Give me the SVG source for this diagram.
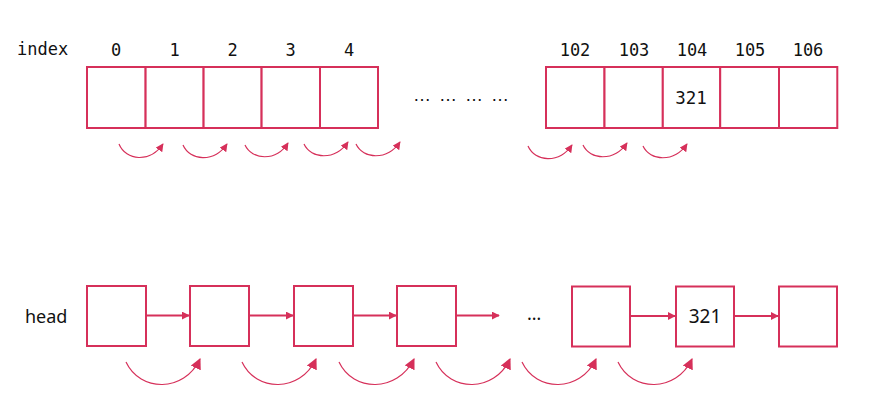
<svg xmlns="http://www.w3.org/2000/svg" width="890" height="419" viewBox="0 0 890 419">
<defs>
<style>
.box{fill:#fff;stroke:#d6305a;stroke-width:2}
.mono{font-family:"DejaVu Sans Mono","Liberation Mono",monospace;font-size:17px;fill:#111}
.sans{font-family:"Noto Sans","DejaVu Sans",sans-serif;font-size:18px;fill:#111}
.link{stroke:#d6305a;stroke-width:2;fill:none}
.arc{stroke:#d6305a;stroke-width:1.2;fill:none}
</style>
<marker id="ah" viewBox="0 0 10 10" refX="9" refY="5" markerWidth="8" markerHeight="8" markerUnits="userSpaceOnUse" orient="auto">
<path d="M0,0 L10,5 L0,10 z" fill="#d6305a"/>
</marker>
<marker id="ab" viewBox="0 0 10 10" refX="9" refY="5" markerWidth="11" markerHeight="11" markerUnits="userSpaceOnUse" orient="auto">
<path d="M0,0 L10,5 L0,10 z" fill="#d6305a"/>
</marker>
</defs>
<rect width="890" height="419" fill="#fff"/>

<text class="mono" x="17" y="55">index</text>
<g id="arr0"><rect class="box" x="87" y="67" width="58.6" height="61"/><text class="mono" x="116" y="56" text-anchor="middle">0</text></g>
<g id="arr1"><rect class="box" x="145.6" y="67" width="58" height="61"/><text class="mono" x="174.5" y="56" text-anchor="middle">1</text></g>
<g id="arr2"><rect class="box" x="203.6" y="67" width="58" height="61"/><text class="mono" x="232.5" y="56" text-anchor="middle">2</text></g>
<g id="arr3"><rect class="box" x="261.6" y="67" width="58.4" height="61"/><text class="mono" x="290.5" y="56" text-anchor="middle">3</text></g>
<g id="arr4"><rect class="box" x="320" y="67" width="58" height="61"/><text class="mono" x="349" y="56" text-anchor="middle">4</text></g>
<text x="413" y="101" style="font-family:'Liberation Sans',sans-serif;font-size:18px;fill:#111;word-spacing:3px">… … … …</text>
<g id="arr102"><rect class="box" x="546" y="67" width="58.5" height="61"/><text class="mono" x="575" y="56" text-anchor="middle">102</text></g>
<g id="arr103"><rect class="box" x="604.5" y="67" width="58.3" height="61"/><text class="mono" x="634" y="56" text-anchor="middle">103</text></g>
<g id="arr104"><rect class="box" x="662.8" y="67" width="57.4" height="61"/><text class="mono" x="692" y="56" text-anchor="middle">104</text><text class="mono" x="691" y="104" text-anchor="middle" style="font-size:17.5px">321</text></g>
<g id="arr105"><rect class="box" x="720.2" y="67" width="58.8" height="61"/><text class="mono" x="750" y="56" text-anchor="middle">105</text></g>
<g id="arr106"><rect class="box" x="779" y="67" width="58.3" height="61"/><text class="mono" x="808" y="56" text-anchor="middle">106</text></g>

<text class="sans" x="25" y="323">head</text>
<g id="n1"><rect class="box" x="87" y="286" width="59" height="60"/></g>
<g id="n2"><rect class="box" x="190" y="286" width="59" height="60"/></g>
<g id="n3"><rect class="box" x="294" y="286" width="59" height="60"/></g>
<g id="n4"><rect class="box" x="397" y="286" width="59" height="60"/></g>
<text class="sans" x="534" y="320" text-anchor="middle">…</text>
<g id="n5"><rect class="box" x="572" y="286.5" width="58" height="60"/></g>
<g id="n6"><rect class="box" x="676" y="286.5" width="58" height="60"/><text class="sans" x="705" y="323" text-anchor="middle" style="font-size:19px">321</text></g>
<g id="n7"><rect class="box" x="779" y="286.5" width="58" height="60"/></g>

<g id="connectors">
<line class="link" x1="146" y1="315.5" x2="189" y2="315.5" marker-end="url(#ah)"/>
<line class="link" x1="249" y1="315.5" x2="293" y2="315.5" marker-end="url(#ah)"/>
<line class="link" x1="353" y1="315.5" x2="396" y2="315.5" marker-end="url(#ah)"/>
<line class="link" x1="456" y1="315.5" x2="499" y2="315.5" marker-end="url(#ah)"/>
<line class="link" x1="630" y1="316" x2="675" y2="316" marker-end="url(#ah)"/>
<line class="link" x1="734" y1="316" x2="778" y2="316" marker-end="url(#ah)"/>

<path class="arc" d="M119,144 C126,161 150,163 163,144" marker-end="url(#ah)"/>
<path class="arc" d="M183,145 C190,161 214,163 227,144" marker-end="url(#ah)"/>
<path class="arc" d="M245,145 C252,160 276,162 288,143" marker-end="url(#ah)"/>
<path class="arc" d="M304,144 C311,159 335,161 348,142" marker-end="url(#ah)"/>
<path class="arc" d="M356,144 C363,159 387,161 400,142" marker-end="url(#ah)"/>
<path class="arc" d="M528,146 C535,162 559,164 572,145" marker-end="url(#ah)"/>
<path class="arc" d="M583,145 C590,160 614,162 627,143" marker-end="url(#ah)"/>
<path class="arc" d="M643,146 C650,161 674,163 687,144" marker-end="url(#ah)"/>

<path class="arc" d="M126,362 C140,392 184,393 200,359" marker-end="url(#ab)"/>
<path class="arc" d="M242,362 C256,392 300,393 316,359" marker-end="url(#ab)"/>
<path class="arc" d="M339,362 C353,392 397,393 414,359" marker-end="url(#ab)"/>
<path class="arc" d="M436,362 C450,392 494,393 510,359" marker-end="url(#ab)"/>
<path class="arc" d="M522,362 C536,392 580,393 596,359" marker-end="url(#ab)"/>
<path class="arc" d="M618,362 C632,392 676,393 692,359" marker-end="url(#ab)"/>
</g>
</svg>
